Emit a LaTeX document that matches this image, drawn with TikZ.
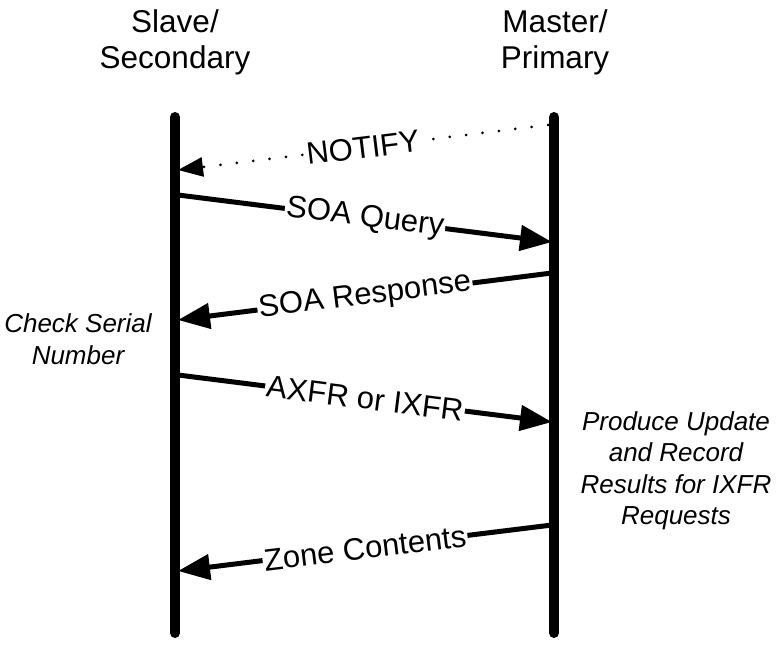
\documentclass[tikz,border=0pt]{standalone}
\usepackage{fontspec}
\setmainfont{Liberation Sans}
\usetikzlibrary{arrows.meta}
\begin{document}
\begin{tikzpicture}[x=1pt,y=-1pt]
    \tikzset{
        lifeline/.style={line width=10pt, line cap=round},
        msg/.style={line width=5pt, -{Triangle[length=32pt,width=25pt]}},
        notifymsg/.style={line width=3pt, line cap=round, dash pattern=on 0pt off 16.5pt, -{Triangle[length=25pt,width=19pt]}},
        lbl/.style={midway, sloped, fill=white, inner sep=1.5pt, font=\fontsize{31}{36}\selectfont},
        head/.style={align=center, font=\fontsize{31.5}{36}\selectfont},
        note/.style={align=center, font=\fontsize{26}{31.5}\selectfont\itshape}
    }
    \useasboundingbox (0,0) rectangle (776,647);
    %heads
    \node[head] (slave) at (175,42) {Slave/\\Secondary};
    \node[head] (master) at (555,42) {Master/\\Primary};
    %lifelines
    \coordinate (stop) at (175,117);
    \coordinate (sbot) at (175,633);
    \coordinate (mtop) at (554,117);
    \coordinate (mbot) at (554,633);
    \draw[lifeline] (stop) -- (sbot);
    \draw[lifeline] (mtop) -- (mbot);
    %messages
    \coordinate (n1) at (548,125);
    \coordinate (n2) at (178,170);
    \coordinate (q1) at (178,195);
    \coordinate (q2) at (552,242);
    \coordinate (r1) at (552,273);
    \coordinate (r2) at (178,320);
    \coordinate (x1) at (178,375);
    \coordinate (x2) at (552,422);
    \coordinate (z1) at (552,525);
    \coordinate (z2) at (178,571);
    \draw[notifymsg] (n1) -- (n2) node[lbl] (notify) {NOTIFY};
    \draw[msg] (q1) -- (q2) node[lbl] (query) {SOA Query};
    \draw[msg] (r1) -- (r2) node[lbl] (response) {SOA Response};
    \draw[msg] (x1) -- (x2) node[lbl] (xfr) {AXFR or IXFR};
    \draw[msg] (z1) -- (z2) node[lbl] (zone) {Zone Contents};
    %notes
    \node[note] (check) at (78,339) {Check Serial\\Number};
    \node[note] (produce) at (676,471) {Produce Update\\and Record\\Results for IXFR\\Requests};
\end{tikzpicture}
\end{document}
